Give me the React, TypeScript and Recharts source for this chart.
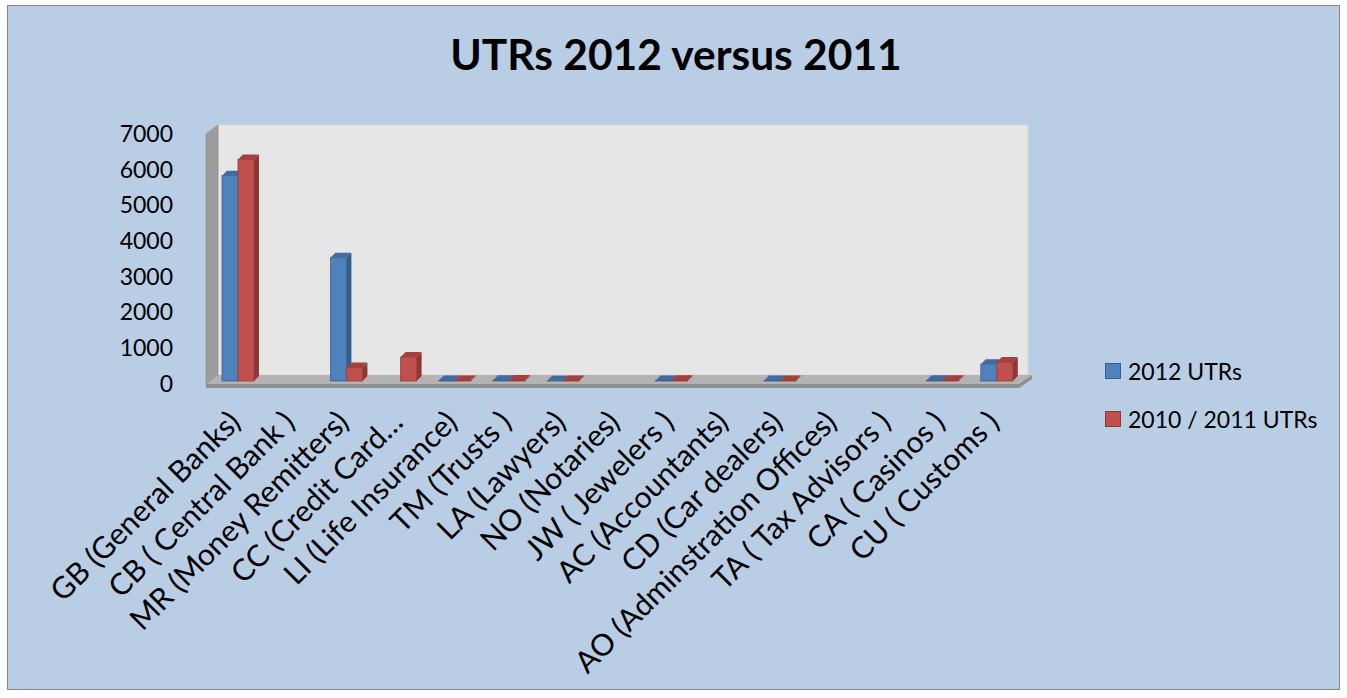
import React from "react";
import { BarChart, Bar, XAxis, YAxis, Legend } from "recharts";

const categories = [
  "GB (General Banks)",
  "CB ( Central Bank )",
  "MR (Money Remitters)",
  "CC (Credit Card…",
  "LI (Life Insurance)",
  "TM (Trusts )",
  "LA (Lawyers)",
  "NO (Notaries)",
  "JW ( Jewelers )",
  "AC (Accountants)",
  "CD (Car dealers)",
  "AO (Adminstration Offices)",
  "TA ( Tax Advisors )",
  "CA ( Casinos )",
  "CU ( Customs )",
];
const utrs2012 = [5750, 0, 3450, 0, 12, 20, 10, 0, 15, 0, 12, 0, 0, 20, 470];
const utrs2011 = [6200, 0, 380, 670, 15, 25, 12, 0, 18, 0, 14, 0, 0, 22, 530];
const yTicks = [0, 1000, 2000, 3000, 4000, 5000, 6000, 7000];
const seriesNames = ["2012 UTRs", "2010 / 2011 UTRs"];

const data = categories.map((name, i) => ({
  name,
  y2012: utrs2012[i],
  y2011: utrs2011[i],
}));

const FONT = "Lato, 'Open Sans', sans-serif";
const BG = "#B9CDE5";

const BLUE = { front: "#4F81BD", top: "#3E6CA3", side: "#385D8A", edge: "#3A6394" };
const RED = { front: "#C0504D", top: "#A5403D", side: "#8C3836", edge: "#9A3B38" };

// 3D look box: front face, top and right side
function Box(props: any) {
  const { x, y, width, height, payload, k, c } = props;
  if (!payload || !payload[k]) return null;
  const d = 5;
  return (
    <g>
      <path
        d={`M${x + width} ${y} L${x + width + d} ${y - d} L${x + width + d} ${y + height - d} L${x + width} ${y + height} Z`}
        fill={c.side}
      />
      <path
        d={`M${x} ${y} L${x + d} ${y - d} L${x + width + d} ${y - d} L${x + width} ${y} Z`}
        fill={c.top}
      />
      <rect x={x} y={y} width={width} height={height} fill={c.front} stroke={c.edge} strokeWidth={0.8} />
    </g>
  );
}

function YTick({ x, y, payload }: any) {
  return (
    <text x={x} y={y + 5} textAnchor="end" dominantBaseline="middle" fontFamily={FONT} fontSize={23} fill="#000">
      {payload.value}
    </text>
  );
}

function XTick({ x, y, payload }: any) {
  const ax = x + 4;
  const ay = y + 43;
  return (
    <text
      x={ax}
      y={ay}
      transform={`rotate(-45 ${ax} ${ay})`}
      textAnchor="end"
      fontFamily={FONT}
      fontSize={30}
      fill="#000"
    >
      {payload.value}
    </text>
  );
}

function LegendBox({ payload }: any) {
  const items = [...(payload || [])].sort(
    (a: any, b: any) => seriesNames.indexOf(a.value) - seriesNames.indexOf(b.value)
  );
  return (
    <div style={{ fontFamily: FONT, fontSize: 23, color: "#000" }}>
      {items.map((p: any) => (
        <div key={p.value} style={{ display: "flex", alignItems: "center", height: 48 }}>
          <span
            style={{
              display: "inline-block",
              width: 14,
              height: 14,
              background: p.color,
              border: `1px solid ${p.color === BLUE.front ? BLUE.side : RED.side}`,
              marginRight: 7,
            }}
          />
          {p.value}
        </div>
      ))}
    </div>
  );
}

export default function App() {
  return (
    <div style={{ position: "absolute", left: 0, top: 0, width: 1347, height: 698, background: "#fff" }}>
      <svg width={1347} height={698} style={{ position: "absolute", left: 0, top: 0 }}>
        <rect x={7.5} y={5.5} width={1332} height={684} fill={BG} stroke="#868686" />
        <text x={676} y={70} textAnchor="middle" fontFamily={FONT} fontWeight="bold" fontSize={42.5} fill="#000">
          UTRs 2012 versus 2011
        </text>
        {/* back wall */}
        <rect x={218} y={125} width={810} height={250} fill="#E6E6E6" stroke="#D9D9D9" />
        {/* side wall */}
        <path d="M206 134 L218 125 L218 375 L206 384 Z" fill="#9B9B9B" stroke="#8A8A8A" strokeWidth={0.6} />
        {/* floor */}
        <path d="M206 384 L218 375 L1032 375 L1019 384 Z" fill="#B3B3B3" />
        <path d="M206 384 L1019 384 L1032 375 L1032 379 L1019 388 L206 388 Z" fill="#8F8F8F" />
      </svg>
      <div style={{ position: "absolute", left: 0, top: 0 }}>
        <BarChart
          width={1347}
          height={698}
          data={data}
          margin={{ top: 131, right: 323, bottom: 17, left: 111 }}
          barGap={0}
          barSize={16}
        >
          <XAxis
            dataKey="name"
            interval={0}
            height={300}
            axisLine={false}
            tickLine={false}
            tickSize={0}
            tickMargin={0}
            tick={<XTick />}
          />
          <YAxis
            width={100}
            domain={[0, 7000]}
            ticks={yTicks}
            axisLine={false}
            tickLine={false}
            tickSize={0}
            tickMargin={38}
            tick={<YTick />}
          />
          <Legend
            layout="horizontal"
            verticalAlign="middle"
            align="center"
            wrapperStyle={{ left: 1105, top: 347, width: 240 }}
            content={<LegendBox />}
          />
          <Bar
            dataKey="y2012"
            name="2012 UTRs"
            fill={BLUE.front}
            isAnimationActive={false}
            shape={(p: any) => <Box {...p} k="y2012" c={BLUE} />}
          />
          <Bar
            dataKey="y2011"
            name="2010 / 2011 UTRs"
            fill={RED.front}
            isAnimationActive={false}
            shape={(p: any) => <Box {...p} k="y2011" c={RED} />}
          />
        </BarChart>
      </div>
    </div>
  );
}
